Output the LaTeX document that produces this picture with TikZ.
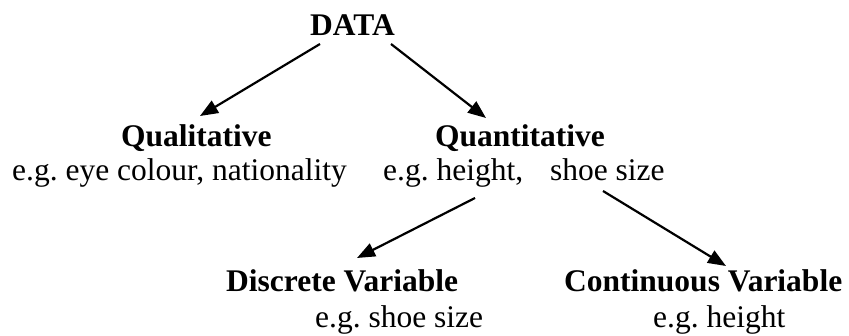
\documentclass[tikz,border=0pt]{standalone}
\usepackage{fontspec}
\setmainfont{Liberation Serif}
\usetikzlibrary{arrows.meta}
\frenchspacing
\begin{document}
\begin{tikzpicture}[x=1pt,y=1pt,
  lbl/.style={inner sep=0pt, anchor=base west, font=\fontsize{31.5}{36}\selectfont},
  hd/.style={lbl, font=\fontsize{31.5}{36}\selectfont\bfseries},
  arr/.style={line width=2.2pt, -{Triangle[length=18pt,width=14pt]}}]
\useasboundingbox (0,0) rectangle (849,336);
% headings
\node[hd] (data) at (310,300) {DATA};
\node[hd] (qual) at (121,189) {Qualitative};
\node[lbl] (qualeg) at (12,155) {e.g. eye colour, nationality};
\node[hd] (quant) at (435,189) {Quantitative};
\node[lbl] (quanteg) at (383,155) {e.g. height,\hspace{19pt} shoe size};
\node[hd] (disc) at (226,44) {Discrete Variable};
\node[lbl] (disceg) at (315,8) {e.g. shoe size};
\node[hd] (cont) at (564,44) {Continuous Variable};
\node[lbl] (conteg) at (653,8) {e.g. height};
% arrow ends
\coordinate (a1) at (320,292);
\coordinate (a2) at (200,220);
\coordinate (b1) at (391,292);
\coordinate (b2) at (486,218);
\coordinate (c1) at (475,138);
\coordinate (c2) at (357,78);
\coordinate (d1) at (603,145);
\coordinate (d2) at (726,70);
\draw[arr] (a1) -- (a2);
\draw[arr] (b1) -- (b2);
\draw[arr] (c1) -- (c2);
\draw[arr] (d1) -- (d2);
\end{tikzpicture}
\end{document}
